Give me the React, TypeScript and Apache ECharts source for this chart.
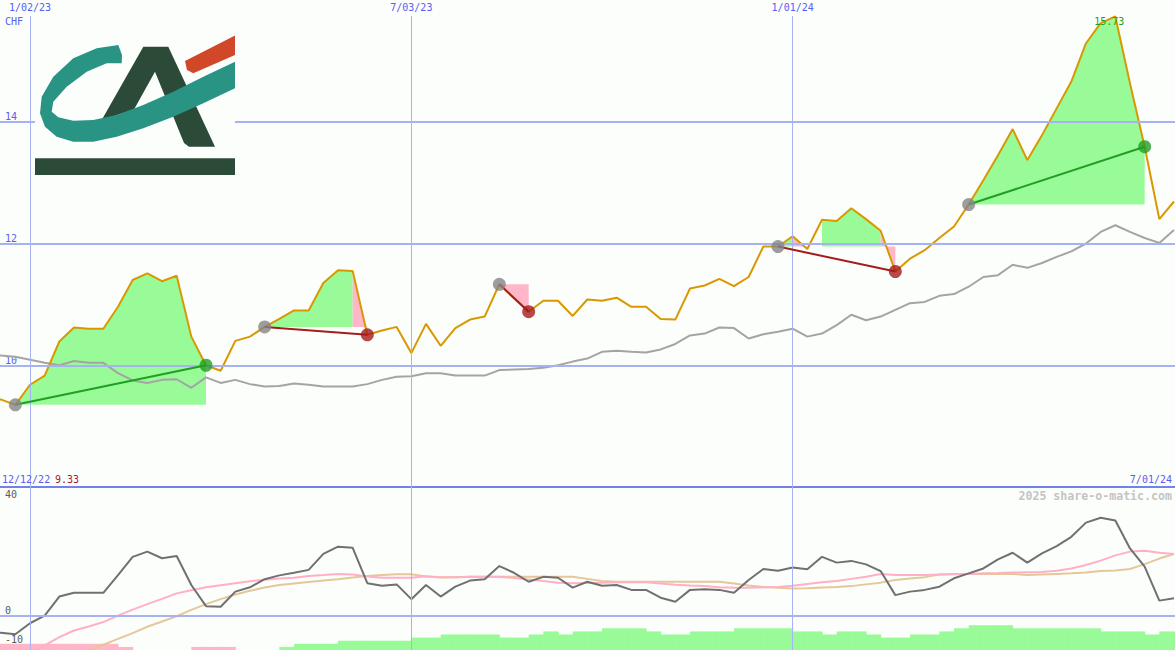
import React, { useEffect, useRef } from 'react';
import * as echarts from 'echarts';

// ---------- data ----------
const DATE_IDX = [3, 29, 55];
const DATE_LABELS = ['1/02/23', '7/03/23', '1/01/24'];
const START_DATE = '12/12/22';
const END_DATE = '7/01/24';
const CURRENCY = 'CHF';
const WATERMARK = '2025 share-o-matic.com';

const PRICE = [
  9.33, 9.44, 9.35, 9.68, 9.83, 10.39, 10.62, 10.6, 10.6, 10.96,
  11.4, 11.51, 11.38, 11.47, 10.47, 10.0, 9.91, 10.4, 10.47, 10.63,
  10.76, 10.9, 10.9, 11.35, 11.56, 11.55, 10.5, 10.57, 10.63, 10.2,
  10.68, 10.32, 10.61, 10.75, 10.8, 11.33, 11.1, 10.88, 11.06, 11.06,
  10.81, 11.08, 11.06, 11.11, 10.96, 10.96, 10.76, 10.75, 11.26, 11.31,
  11.42, 11.3, 11.45, 11.95, 11.95, 12.12, 11.91, 12.39, 12.37, 12.58,
  12.4, 12.21, 11.54, 11.75, 11.89, 12.09, 12.28, 12.64, 13.04, 13.45,
  13.88, 13.37, 13.78, 14.22, 14.66, 15.29, 15.62, 15.73, 14.63, 13.59,
  12.4, 12.69,
];

const INDEX_LINE = [
  10.17, 10.16, 10.14, 10.09, 10.04, 10.0, 10.07, 10.04, 10.04, 9.87,
  9.75, 9.71, 9.76, 9.77, 9.63, 9.8, 9.71, 9.76, 9.69, 9.65,
  9.66, 9.7, 9.68, 9.65, 9.65, 9.65, 9.69, 9.76, 9.81, 9.82,
  9.87, 9.87, 9.83, 9.83, 9.83, 9.92, 9.93, 9.94, 9.96, 10.0,
  10.06, 10.11, 10.22, 10.24, 10.22, 10.21, 10.26, 10.35, 10.49, 10.52,
  10.62, 10.61, 10.44, 10.51, 10.55, 10.6, 10.47, 10.52, 10.66, 10.83,
  10.74, 10.8, 10.91, 11.02, 11.04, 11.14, 11.17, 11.29, 11.45, 11.48,
  11.65, 11.6, 11.68, 11.78, 11.87, 12.0, 12.19, 12.3, 12.19, 12.09,
  12.01, 12.22,
];

// [entryIndex, exitIndex]
const TRADES = [
  [2, 15],
  [19, 26],
  [35, 37],
  [54, 62],
  [67, 79],
];

const MOMENTUM = [
  -5.4, -5.9, -6.4, -2.6, 0.0, 6.6, 7.9, 7.9, 7.9, 14.0,
  20.3, 22.1, 19.8, 20.6, 10.6, 3.3, 3.1, 8.3, 9.8, 12.6,
  13.9, 14.8, 15.8, 21.3, 23.8, 23.4, 11.2, 10.3, 10.8, 5.7,
  10.6, 6.6, 10.0, 12.1, 12.6, 17.1, 14.8, 11.7, 13.4, 13.1,
  9.7, 11.7, 10.3, 10.6, 8.9, 8.9, 6.2, 4.8, 8.9, 9.1,
  8.9, 7.9, 12.3, 16.1, 15.5, 16.6, 16.0, 20.3, 18.3, 18.9,
  17.7, 15.4, 7.1, 8.3, 8.9, 10.0, 12.9, 14.6, 16.3, 19.4,
  21.7, 18.3, 21.5, 24.0, 27.2, 32.1, 33.8, 32.8, 23.2, 16.9,
  5.2, 6.0,
];

const AVG_FAST = [
  -22, -19, -16, -13, -10.2, -7.4, -5.1, -3.7, -2.2, 0.0,
  2.1, 4.0, 5.8, 7.7, 8.8, 9.8, 10.5, 11.2, 11.9, 12.4,
  12.8, 13.1, 13.7, 14.0, 14.4, 14.2, 13.5, 13.1, 13.1, 13.1,
  13.6, 13.3, 13.3, 13.4, 13.4, 13.4, 13.0, 12.5, 12.0, 11.4,
  11.2, 11.3, 11.4, 11.5, 11.5, 11.5, 11.1, 10.7, 10.4, 10.2,
  9.8, 9.6, 9.6, 9.8, 9.9, 10.3, 10.9, 11.5, 12.0, 12.7,
  13.4, 14.4, 14.0, 14.0, 14.0, 14.2, 14.3, 14.4, 14.6, 14.7,
  14.9, 15.0, 15.1, 15.5, 16.3, 17.5, 19.0, 20.8, 22.1, 22.4,
  21.7, 21.3,
];

const AVG_SLOW = [
  -26, -24, -22, -20, -18, -16, -14, -12.0, -10.0, -8.0,
  -6.0, -3.8, -2.0, -0.2, 2.0, 4.0, 5.7, 7.3, 8.6, 9.7,
  10.6, 11.1, 11.6, 12.1, 12.6, 13.2, 13.7, 14.0, 14.3, 14.3,
  13.5, 13.2, 13.3, 13.4, 13.4, 13.4, 13.4, 13.4, 13.4, 13.4,
  13.4, 12.7, 12.0, 11.7, 11.7, 11.7, 11.7, 11.7, 11.7, 11.7,
  11.7, 11.1, 10.4, 9.9, 9.6, 9.4, 9.5, 9.7, 9.9, 10.2,
  10.8, 11.4, 12.3, 12.8, 13.3, 14.2, 14.4, 14.4, 14.4, 14.4,
  14.4, 14.0, 14.2, 14.4, 14.6, 14.9, 15.4, 15.6, 16.1, 17.8,
  19.7, 21.3,
];

// signed histogram (negative = pink)
const HIST = [
  -2, -2, -2, -2, -2, -2, -2, -2, -2, -1,
  0, 0, 0, 0, -1, -1, -1, 0, 0, 0,
  1, 2, 2, 2, 3, 3, 3, 3, 3, 4,
  4, 5, 5, 5, 5, 4, 4, 5, 6, 5,
  6, 6, 7, 7, 7, 6, 5, 5, 6, 6,
  6, 7, 7, 7, 7, 6, 6, 5, 6, 6,
  5, 4, 4, 5, 5, 6, 7, 8, 8, 8,
  7, 7, 7, 7, 7, 7, 6, 6, 6, 5,
  6, 6,
];

const TOP_GRID = [10, 12, 14];
const BOTTOM_LABELS = [40, 0, -10];

// ---------- styles ----------
const BG = '#fcfefc';
const BLUE_TXT = '#5560ee';
const GRID_COL = '#a6b2f2';
const SEP_COL = '#7282e8';
const ORANGE = '#d99800';
const GREY = '#a4a4a4';
const DARK = '#707070';
const PINK_LINE = '#ffb0c4';
const TAN = '#e4c898';
const FILL_GREEN = '#98fb98';
const FILL_PINK = '#ffb6c8';
const WIN = '#229e22';
const LOSS = '#a41c1c';
const MONO = '"DejaVu Sans Mono", monospace';

const W = 1175;
const TOP_H = 487;
const BOT_H = 163;
const PX_PER_WEEK = 14.6667;
const XMIN = 14 / PX_PER_WEEK;
const XMAX = XMIN + W / PX_PER_WEEK;
const TOP_MIN = 8;
const TOP_MAX = 16;
const VLINE_TOP = TOP_MAX - 16 / (TOP_H / (TOP_MAX - TOP_MIN));
const BOT_PX = 2.9;
const BOT_MAX = 128.7 / BOT_PX;
const BOT_MIN = -(BOT_H - 128.7) / BOT_PX;
const HIST_MAX = BOT_H / 3.1;

function buildOption() {
  const pairs = (arr: number[]) => arr.map((v, i) => [i, v]);

  // trade fills: contiguous runs of same-coloured segments
  // item: [startIdx, endIdx, base, colour(1 green / 0 pink)]
  const runs: number[][] = [];
  TRADES.forEach(([e, x]) => {
    const base = PRICE[e];
    let cur: number[] | null = null;
    for (let i = e; i < x; i++) {
      const p0 = PRICE[i];
      const p1 = PRICE[i + 1];
      let c = -1;
      if (p1 < base) c = 0;
      else if (p0 < base) c = -1;
      else c = 1;
      if (c < 0) {
        cur = null;
        continue;
      }
      if (cur && cur[3] === c && cur[1] === i) {
        cur[1] = i + 1;
      } else {
        cur = [i, i + 1, base, c];
        runs.push(cur);
      }
    }
  });

  const hist = HIST.map((v, i) => [i, Math.abs(v), v < 0 ? 0 : 1]).filter((d) => d[1] !== 0);

  let maxIdx = 0;
  PRICE.forEach((v, i) => {
    if (v > PRICE[maxIdx]) maxIdx = i;
  });

  const tradeLines = TRADES.map(([e, x]) => ({
    type: 'line',
    xAxisIndex: 0,
    yAxisIndex: 0,
    data: [
      [e, PRICE[e]],
      [x, PRICE[x]],
    ],
    symbol: 'none',
    lineStyle: { color: PRICE[x] > PRICE[e] ? WIN : LOSS, width: 2 },
    z: 5,
    silent: true,
  }));

  const txt = (text: string, x: number, y: number, fill: string, align = 'left', size = 10, weight = 'normal') => ({
    type: 'text',
    x,
    y,
    z: 100,
    silent: true,
    style: {
      text,
      fill,
      fontSize: size,
      fontFamily: MONO,
      fontWeight: weight,
      align,
      verticalAlign: 'middle',
    },
  });

  const logo = {
    type: 'group',
    z: 100,
    silent: true,
    children: [
      { type: 'rect', shape: { x: 35, y: 30, width: 200, height: 146 }, style: { fill: BG }, z: 100 },
      {
        type: 'polygon',
        z: 101,
        shape: {
          points: [
            [101.7, 120], [143.3, 46.7], [168.3, 46.7], [215, 146.7], [189, 146.7],
            [184, 143], [155, 71.7], [134, 109.5],
          ],
        },
        style: { fill: '#2c4a38' },
      },
      {
        type: 'polygon',
        z: 102,
        shape: {
          points: [
            [118.3, 45], [96.7, 48.3], [73.3, 58.3], [53.3, 76.7], [41.7, 96.7], [40, 113.3],
            [45, 126.7], [56.7, 136.7], [73.3, 141.7], [93.3, 141.7], [116.7, 136.7],
            [143.3, 128.3], [173.3, 116.7], [203.3, 103.3], [235, 88.3],
            [235, 61.7], [203.3, 76.7], [173.3, 91.7], [143.3, 105], [116.7, 115],
            [93.3, 120], [73.3, 120.7], [58.3, 117.3], [51.7, 111.7], [53.3, 101.7],
            [66.7, 86.7], [86.7, 71.7], [106.7, 63.3], [121.7, 63.3], [122, 55],
          ],
        },
        style: { fill: '#299484' },
      },
      {
        type: 'polygon',
        z: 102,
        shape: { points: [[185, 61], [235, 35.5], [235, 55], [193.3, 73.3], [187, 70]] },
        style: { fill: '#d04828' },
      },
      { type: 'rect', z: 102, shape: { x: 35, y: 158.3, width: 200, height: 16.7 }, style: { fill: '#2c4a38' } },
    ],
  };

  return {
    animation: false,
    backgroundColor: BG,
    textStyle: { fontFamily: MONO },
    grid: [
      { left: 0, top: 0, width: W, height: TOP_H },
      { left: 0, top: TOP_H, width: W, height: BOT_H },
    ],
    xAxis: [
      {
        gridIndex: 0,
        type: 'value',
        min: XMIN,
        max: XMAX,
        position: 'top',
        axisLine: { show: false },
        axisTick: { show: false },
        splitLine: { show: false },
        axisLabel: {
          inside: true,
          margin: 2,
          customValues: DATE_IDX,
          formatter: (v: number) => DATE_LABELS[DATE_IDX.indexOf(v)] ?? '',
          color: BLUE_TXT,
          fontSize: 10,
          fontFamily: MONO,
          verticalAlign: 'top',
        },
      },
      {
        gridIndex: 1,
        type: 'value',
        min: XMIN,
        max: XMAX,
        position: 'top',
        axisLine: { show: true, onZero: false, lineStyle: { color: SEP_COL, width: 2 } },
        axisTick: { show: false },
        axisLabel: { show: false },
        splitLine: { show: false },
      },
    ],
    yAxis: [
      {
        gridIndex: 0,
        type: 'value',
        min: TOP_MIN,
        max: TOP_MAX,
        axisLine: { show: false },
        axisTick: { show: false },
        splitLine: { show: false },
        axisLabel: {
          inside: true,
          margin: 5,
          customValues: TOP_GRID,
          verticalAlign: 'bottom',
          color: BLUE_TXT,
          fontSize: 10,
          fontFamily: MONO,
        },
      },
      {
        gridIndex: 1,
        type: 'value',
        min: BOT_MIN,
        max: BOT_MAX,
        axisLine: { show: false },
        axisTick: { show: false },
        splitLine: { show: false },
        axisLabel: {
          inside: true,
          margin: 5,
          customValues: BOTTOM_LABELS,
          verticalAlign: 'bottom',
          color: '#5a5a5a',
          fontSize: 10,
          fontFamily: MONO,
        },
      },
      {
        gridIndex: 1,
        type: 'value',
        min: 0,
        max: HIST_MAX,
        show: false,
      },
    ],
    series: [
      // grid helpers (top)
      {
        type: 'line',
        xAxisIndex: 0,
        yAxisIndex: 0,
        data: [[DATE_IDX[0], TOP_MIN]],
        symbol: 'none',
        lineStyle: { width: 0 },
        z: 1,
        silent: true,
        markLine: {
          silent: true,
          symbol: ['none', 'none'],
          label: { show: false },
          data: [
            ...TOP_GRID.map((v) => ({ yAxis: v, lineStyle: { color: GRID_COL, width: 2, type: 'solid' } })),
            ...DATE_IDX.map((x) => [
              { coord: [x, VLINE_TOP], lineStyle: { color: GRID_COL, width: 1, type: 'solid' } },
              { coord: [x, TOP_MIN] },
            ]),
          ],
        },
      },
      // grid helpers (bottom)
      {
        type: 'line',
        xAxisIndex: 1,
        yAxisIndex: 1,
        data: [[DATE_IDX[0], 0]],
        symbol: 'none',
        lineStyle: { width: 0 },
        z: 1,
        silent: true,
        markLine: {
          silent: true,
          symbol: ['none', 'none'],
          label: { show: false },
          data: [
            { yAxis: 0, lineStyle: { color: GRID_COL, width: 2, type: 'solid' } },
            ...DATE_IDX.map((x) => ({ xAxis: x, lineStyle: { color: GRID_COL, width: 1, type: 'solid' } })),
          ],
        },
      },
      // trade fills
      {
        type: 'custom',
        xAxisIndex: 0,
        yAxisIndex: 0,
        z: 2,
        silent: true,
        data: runs,
        encode: { x: [0, 1], y: 2 },
        renderItem: (params: any, api: any) => {
          const s = api.value(0);
          const e = api.value(1);
          const b = api.value(2);
          const c = api.value(3);
          const pts: number[][] = [api.coord([s, b])];
          for (let i = s; i <= e; i++) pts.push(api.coord([i, PRICE[i]]));
          pts.push(api.coord([e, b]));
          return { type: 'polygon', shape: { points: pts }, style: { fill: c === 1 ? FILL_GREEN : FILL_PINK } };
        },
      },
      // comparison line
      {
        type: 'line',
        xAxisIndex: 0,
        yAxisIndex: 0,
        data: pairs(INDEX_LINE),
        symbol: 'none',
        lineStyle: { color: GREY, width: 2 },
        z: 3,
        silent: true,
      },
      // price line
      {
        type: 'line',
        xAxisIndex: 0,
        yAxisIndex: 0,
        data: pairs(PRICE),
        symbol: 'none',
        lineStyle: { color: ORANGE, width: 2 },
        z: 4,
        silent: true,
        markPoint: {
          silent: true,
          symbol: 'circle',
          symbolSize: 1,
          itemStyle: { color: 'rgba(0,0,0,0)' },
          label: {
            show: true,
            position: 'inside',
            offset: [-6, 5],
            color: WIN,
            fontSize: 10,
            fontFamily: MONO,
            formatter: (p: any) => Number(p.value).toFixed(2),
          },
          data: [{ coord: [maxIdx, PRICE[maxIdx]], value: PRICE[maxIdx] }],
        },
      },
      ...tradeLines,
      // entry dots
      {
        type: 'scatter',
        xAxisIndex: 0,
        yAxisIndex: 0,
        data: TRADES.map(([e]) => [e, PRICE[e]]),
        symbolSize: 13,
        itemStyle: { color: '#848484' },
        z: 6,
        silent: true,
      },
      // exit dots
      {
        type: 'scatter',
        xAxisIndex: 0,
        yAxisIndex: 0,
        data: TRADES.map(([e, x]) => ({
          value: [x, PRICE[x]],
          itemStyle: { color: PRICE[x] > PRICE[e] ? WIN : LOSS },
        })),
        symbolSize: 13,
        z: 6,
        silent: true,
      },
      // histogram
      {
        type: 'custom',
        xAxisIndex: 1,
        yAxisIndex: 2,
        z: 2,
        silent: true,
        data: hist,
        encode: { x: 0, y: 1 },
        renderItem: (params: any, api: any) => {
          const i = api.value(0);
          const v = api.value(1);
          const pos = api.value(2);
          const a = api.coord([i, v]);
          const b = api.coord([i + 1, 0]);
          return {
            type: 'rect',
            shape: { x: a[0], y: a[1], width: b[0] - a[0] + 0.5, height: b[1] - a[1] },
            style: { fill: pos === 1 ? FILL_GREEN : FILL_PINK },
          };
        },
      },
      {
        type: 'line',
        xAxisIndex: 1,
        yAxisIndex: 1,
        data: pairs(AVG_SLOW),
        symbol: 'none',
        lineStyle: { color: TAN, width: 2 },
        z: 3,
        silent: true,
      },
      {
        type: 'line',
        xAxisIndex: 1,
        yAxisIndex: 1,
        data: pairs(AVG_FAST),
        symbol: 'none',
        lineStyle: { color: PINK_LINE, width: 2 },
        z: 3,
        silent: true,
      },
      {
        type: 'line',
        xAxisIndex: 1,
        yAxisIndex: 1,
        data: pairs(MOMENTUM),
        symbol: 'none',
        lineStyle: { color: DARK, width: 2 },
        z: 4,
        silent: true,
      },
    ],
    graphic: [
      logo,
      txt(CURRENCY, 5, 21, BLUE_TXT),
      txt(START_DATE, 2, 479, BLUE_TXT),
      txt(PRICE[0].toFixed(2), 55, 479, LOSS),
      txt(END_DATE, 1172, 479, BLUE_TXT, 'right'),
      txt(WATERMARK, 1172, 496, '#c4c4c4', 'right', 11.6, 'bold'),
    ],
  };
}

export default function App() {
  const ref = useRef<HTMLDivElement>(null);
  useEffect(() => {
    if (!ref.current) return;
    const chart = echarts.init(ref.current, undefined, { renderer: 'svg' });
    chart.setOption(buildOption() as any);
    return () => chart.dispose();
  }, []);
  return (
    <div
      ref={ref}
      style={{ position: 'fixed', left: 0, top: 0, width: 1175, height: 650, background: BG }}
    />
  );
}
